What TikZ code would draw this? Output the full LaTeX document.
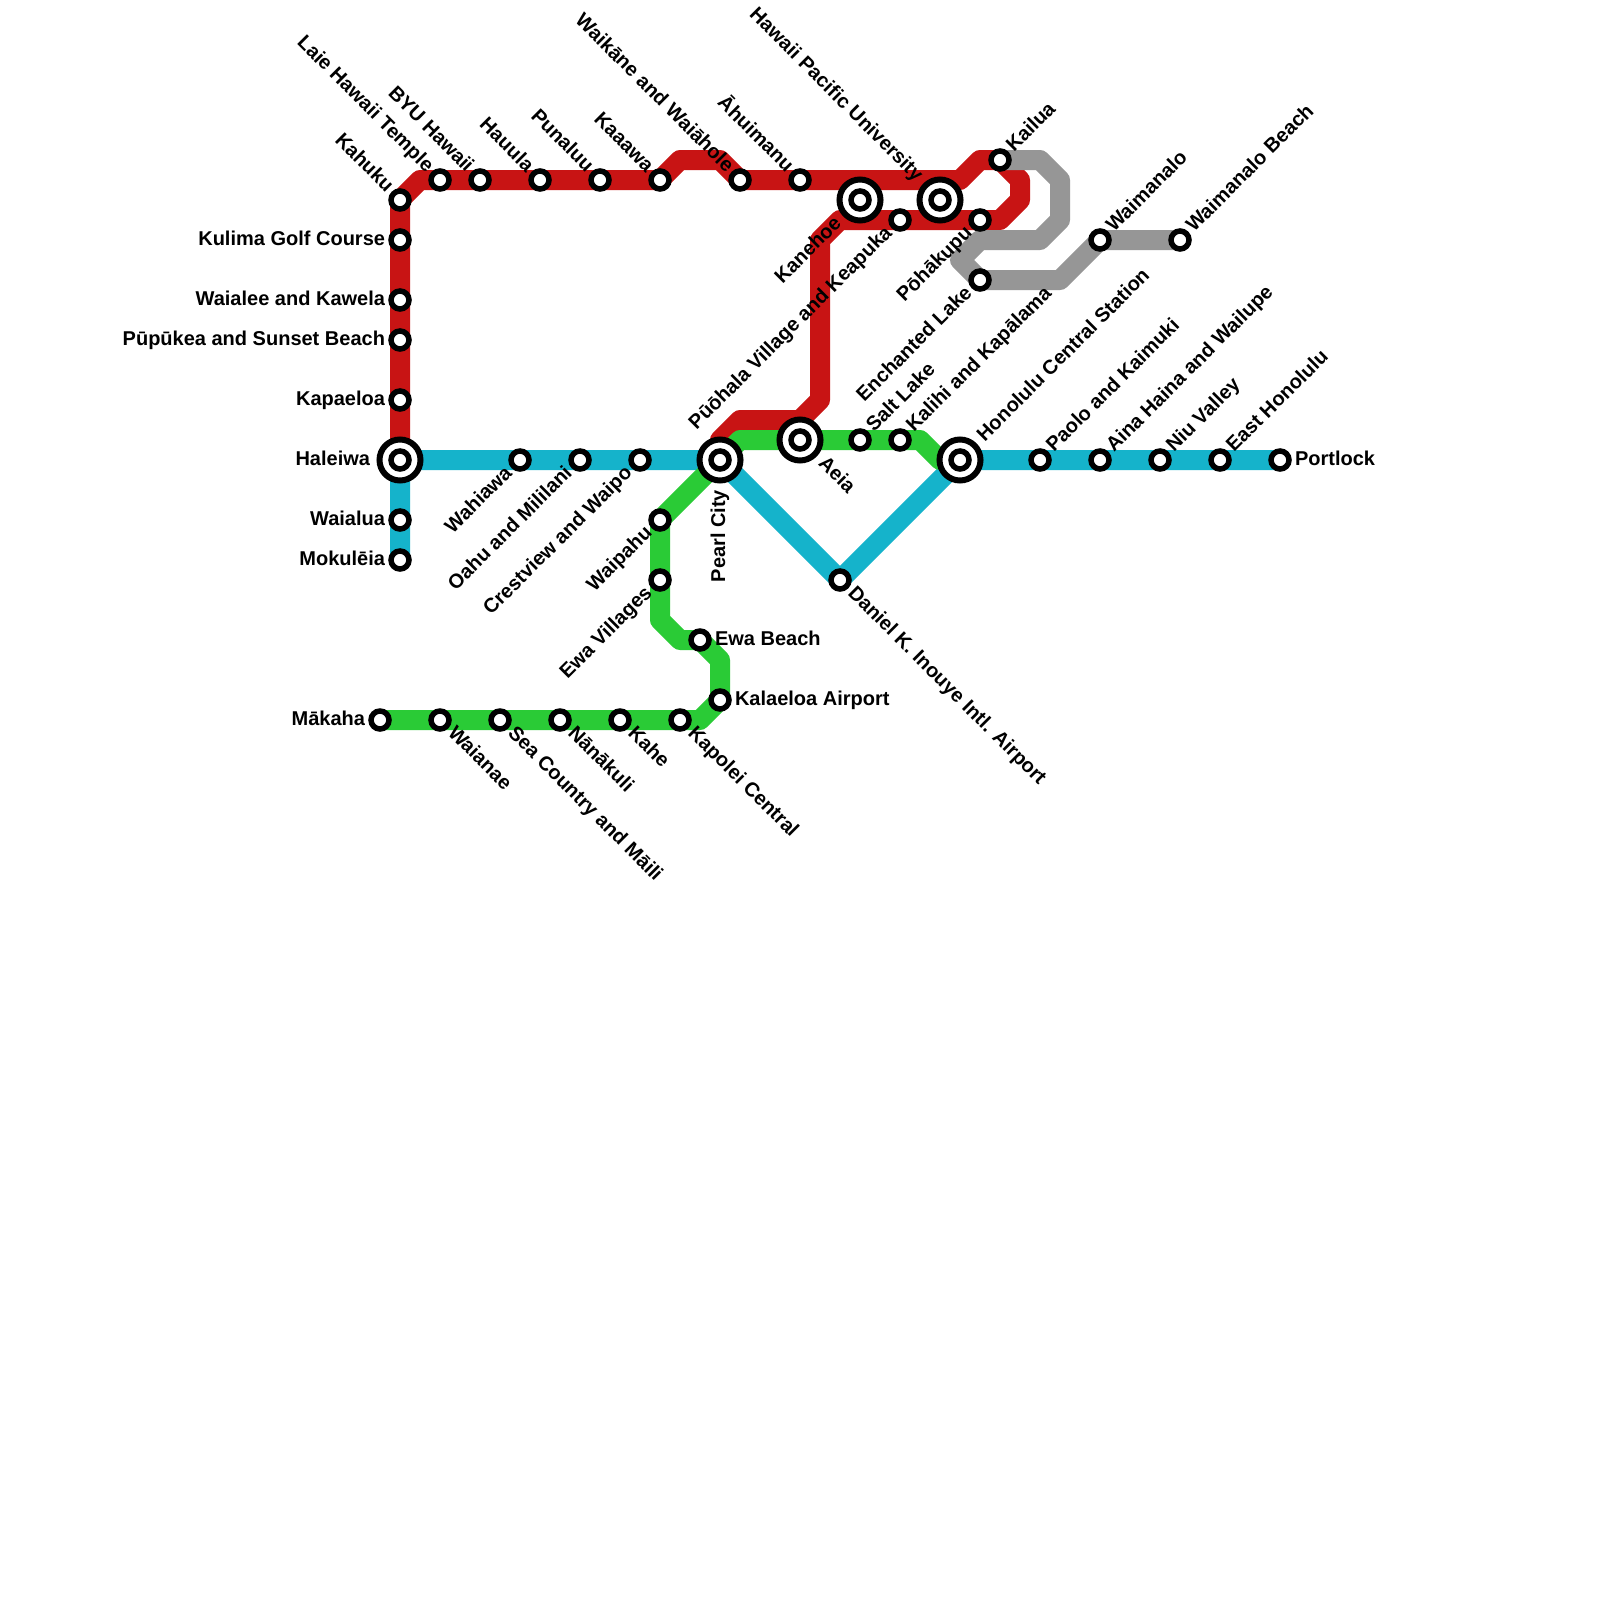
\documentclass[tikz,border=0pt]{standalone}
\usepackage{fontspec}
\setmainfont{Liberation Sans}
\usetikzlibrary{calc,backgrounds}
\definecolor{redline}{HTML}{C81414}
\definecolor{blueline}{HTML}{15B3CB}
\definecolor{greenline}{HTML}{2ACB36}
\definecolor{greyline}{HTML}{969696}
\tikzset{
  stn/.style={circle,draw=black,fill=white,line width=5.5pt,minimum size=18pt,inner sep=0pt},
  hubring/.style={circle,draw=black,fill=white,line width=6pt,minimum size=41pt,inner sep=0pt},
  metro/.style={line width=20pt,line join=round,line cap=butt},
  lab/.style={inner sep=0pt,outer sep=0pt,font=\fontsize{20}{22}\selectfont\bfseries,text=black},
}
% station: name, x, y
\newcommand{\stn}[3]{\node[stn] (#1) at (#2,-#3) {};}
\newcommand{\hub}[3]{\node[hubring] (#1-ring) at (#2,-#3) {};\node[stn] (#1) at (#2,-#3) {};}
% label after the station: name, angle, offset, text
\newcommand{\lafter}[4]{\node[lab,rotate=#2,anchor=base west] (#1-label) at ($(#1.center)+(#2:#3)+(#2-90:5)$) {#4};}
% label before the station: name, angle, offset, text
\newcommand{\lbefore}[4]{\node[lab,rotate=#2,anchor=base east] (#1-label) at ($(#1.center)+(#2:-#3)+(#2-90:5)$) {#4};}
\begin{document}
\begin{tikzpicture}[x=1pt,y=1pt]
\useasboundingbox (0,0) rectangle (1600,-1600);

% stations
\stn{kahuku}{400}{200}
\stn{laie}{440}{180}
\stn{byu}{480}{180}
\stn{hauula}{540}{180}
\stn{punaluu}{600}{180}
\stn{kaaawa}{660}{180}
\stn{waikane}{740}{180}
\stn{ahuimanu}{800}{180}
\hub{kanehoe}{860}{200}
\hub{hpu}{940}{200}
\stn{kailua}{1000}{160}
\stn{keapuka}{900}{220}
\stn{pohakupu}{980}{220}
\stn{enchanted}{980}{280}
\stn{waimanalo}{1100}{240}
\stn{wbeach}{1180}{240}
\stn{kulima}{400}{240}
\stn{waialee}{400}{300}
\stn{pupukea}{400}{340}
\stn{kapaeloa}{400}{400}
\hub{haleiwa}{400}{460}
\stn{waialua}{400}{520}
\stn{mokuleia}{400}{560}
\stn{wahiawa}{520}{460}
\stn{oahu}{580}{460}
\stn{crestview}{640}{460}
\hub{pearl}{720}{460}
\hub{aeia}{800}{440}
\stn{saltlake}{860}{440}
\stn{kalihi}{900}{440}
\hub{honolulu}{960}{460}
\stn{paolo}{1040}{460}
\stn{aina}{1100}{460}
\stn{niu}{1160}{460}
\stn{easthon}{1220}{460}
\stn{portlock}{1280}{460}
\stn{daniel}{840}{580}
\stn{waipahu}{660}{520}
\stn{ewav}{660}{580}
\stn{ewab}{700}{640}
\stn{kalaeloa}{720}{700}
\stn{kapolei}{680}{720}
\stn{kahe}{620}{720}
\stn{nanakuli}{560}{720}
\stn{sea}{500}{720}
\stn{waianae}{440}{720}
\stn{makaha}{380}{720}

% bends
\coordinate (r1) at (420,-180);
\coordinate (r2) at (680,-160);
\coordinate (r3) at (720,-160);
\coordinate (r4) at (960,-180);
\coordinate (r5) at (980,-160);
\coordinate (r6) at (1020,-180);
\coordinate (r7) at (1020,-200);
\coordinate (r8) at (1000,-220);
\coordinate (r9) at (840,-220);
\coordinate (r10) at (820,-240);
\coordinate (r11) at (820,-400);
\coordinate (r12) at (800,-420);
\coordinate (r13) at (740,-420);
\coordinate (r14) at (720,-440);
\coordinate (k1) at (1040,-160);
\coordinate (k2) at (1060,-180);
\coordinate (k3) at (1060,-220);
\coordinate (k4) at (1040,-240);
\coordinate (k5) at (980,-240);
\coordinate (k6) at (960,-260);
\coordinate (k7) at (1060,-280);
\coordinate (g1) at (740,-440);
\coordinate (g2) at (920,-440);
\coordinate (g3) at (940,-460);
\coordinate (g4) at (660,-620);
\coordinate (g5) at (680,-640);
\coordinate (g6) at (720,-660);
\coordinate (g7) at (700,-720);

% lines
\begin{scope}[on background layer]
\fill[white] (0,0) rectangle (1600,-1600);
\draw[metro,redline] (haleiwa.center) -- (kahuku.center) -- (r1) -- (kaaawa.center) -- (r2) -- (r3) -- (waikane.center) -- (r4) -- (r5) -- (kailua.center) -- (r6) -- (r7) -- (r8) -- (r9) -- (r10) -- (r11) -- (r12) -- (r13) -- (r14) -- (pearl.center);
\draw[metro,blueline] (mokuleia.center) -- (haleiwa.center) -- (pearl.center) -- (daniel.center) -- (honolulu.center) -- (portlock.center);
\draw[metro,greenline] (honolulu.center) -- (g3) -- (g2) -- (g1) -- (pearl.center) -- (waipahu.center) -- (g4) -- (g5) -- (ewab.center) -- (g6) -- (kalaeloa.center) -- (g7) -- (makaha.center);
\draw[metro,greyline] (kailua.center) -- (k1) -- (k2) -- (k3) -- (k4) -- (k5) -- (k6) -- (enchanted.center) -- (k7) -- (waimanalo.center) -- (wbeach.center);
\end{scope}

% labels
\lbefore{kahuku}{-45}{15}{Kahuku}
\lbefore{laie}{-45}{15}{Laie Hawaii Temple}
\lbefore{byu}{-45}{15}{BYU Hawaii}
\lbefore{hauula}{-45}{15}{Hauula}
\lbefore{punaluu}{-45}{15}{Punaluu}
\lbefore{kaaawa}{-45}{15}{Kaaawa}
\lbefore{waikane}{-45}{15}{Waikāne and Waiāhole}
\lbefore{ahuimanu}{-45}{15}{Āhuimanu}
\lbefore{hpu}{-45}{30}{Hawaii Pacific University}
\lafter{kailua}{45}{15}{Kailua}
\lafter{waimanalo}{45}{15}{Waimanalo}
\lafter{wbeach}{45}{15}{Waimanalo Beach}
\lafter{saltlake}{45}{15}{Salt Lake}
\lafter{kalihi}{45}{15}{Kalihi and Kapālama}
\lafter{honolulu}{45}{30}{Honolulu Central Station}
\lafter{paolo}{45}{15}{Paolo and Kaimuki}
\lafter{aina}{45}{15}{Aina Haina and Wailupe}
\lafter{niu}{45}{15}{Niu Valley}
\lafter{easthon}{45}{15}{East Honolulu}
\lbefore{kanehoe}{45}{30}{Kanehoe}
\lbefore{keapuka}{45}{15}{Pūōhala Village and Keapuka}
\lbefore{pohakupu}{45}{15}{Pōhākupu}
\lbefore{enchanted}{45}{15}{Enchanted Lake}
\lbefore{wahiawa}{45}{15}{Wahiawa}
\lbefore{oahu}{45}{15}{Oahu and Mililani}
\lbefore{crestview}{45}{15}{Crestview and Waipo}
\lbefore{waipahu}{45}{15}{Waipahu}
\lbefore{ewav}{45}{15}{Ewa Villages}
\lbefore{pearl}{90}{30}{Pearl City}
\lafter{aeia}{-45}{30}{Aeia}
\lafter{daniel}{-45}{15}{Daniel K. Inouye Intl. Airport}
\lafter{kapolei}{-45}{15}{Kapolei Central}
\lafter{kahe}{-45}{15}{Kahe}
\lafter{nanakuli}{-45}{15}{Nānākuli}
\lafter{sea}{-45}{15}{Sea Country and Māili}
\lafter{waianae}{-45}{15}{Waianae}
\lafter{portlock}{0}{15}{Portlock}
\lafter{ewab}{0}{15}{Ewa Beach}
\lafter{kalaeloa}{0}{15}{Kalaeloa Airport}
\lbefore{kulima}{0}{15}{Kulima Golf Course}
\lbefore{waialee}{0}{15}{Waialee and Kawela}
\lbefore{pupukea}{0}{15}{Pūpūkea and Sunset Beach}
\lbefore{kapaeloa}{0}{15}{Kapaeloa}
\lbefore{haleiwa}{0}{30}{Haleiwa}
\lbefore{waialua}{0}{15}{Waialua}
\lbefore{mokuleia}{0}{15}{Mokulēia}
\lbefore{makaha}{0}{15}{Mākaha}
\end{tikzpicture}
\end{document}
